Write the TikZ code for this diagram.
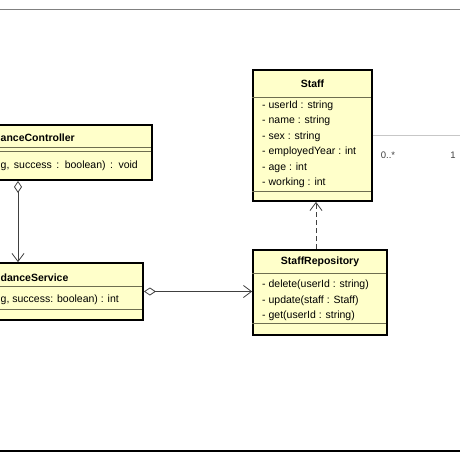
\documentclass[tikz,border=0pt]{standalone}
\usepackage{fontspec}
\setmainfont{Liberation Sans}
\usetikzlibrary{arrows.meta}
\definecolor{umlfill}{HTML}{FFFFCA}
\definecolor{umlsep}{HTML}{6E6E50}
\begin{document}
\begin{tikzpicture}[
        x=1pt, y=-1pt,
        classbox/.style={draw=black, line width=1.8pt, fill=umlfill, inner sep=0pt},
        sep line/.style={draw=umlsep, line width=0.7pt},
        class title/.style={font=\fontsize{10.5}{12}\selectfont\bfseries, inner sep=0pt},
        member/.style={font=\fontsize{10.5}{12}\selectfont, anchor=west, inner sep=0pt},
        mult/.style={font=\fontsize{9.5}{11}\selectfont, inner sep=0pt, text=black!75},
        aggregation/.style={draw=black!75, line width=0.8pt, {Diamond[open,length=12pt,width=8pt]}-{Straight Barb[length=8pt,width=12pt]}},
        dependency/.style={draw=black!75, line width=0.8pt, dash pattern=on 5pt off 3pt, -{Straight Barb[length=8pt,width=12pt]}},
        association/.style={draw=black!22, line width=0.8pt}
    ]
	\useasboundingbox (0,0) rectangle (460,460);
	\clip (0,0) rectangle (460,460);
	\draw[draw=black!50, line width=0.8pt] (0,9) -- (460,9);
	\draw[draw=black, line width=1.4pt] (0,451) -- (460,451);
	\node[classbox, minimum width=268pt, minimum height=55pt] (ctrl) at (18,152.5) {};
	\node[classbox, minimum width=250pt, minimum height=57pt] (serv) at (18,291.5) {};
	\node[classbox, minimum width=119pt, minimum height=131pt] (staff) at (312.5,135.5) {};
	\node[classbox, minimum width=134pt, minimum height=85pt] (repo) at (320,292.5) {};
	\draw[sep line] (ctrl.north west) ++(0,23) -- ++(268,0);
	\draw[sep line] (ctrl.north west) ++(0,27) -- ++(268,0);
	\draw[sep line] (serv.north west) ++(0,24) -- ++(250,0);
	\draw[sep line] (serv.north west) ++(0,47) -- ++(250,0);
	\draw[sep line] (staff.north west) ++(0,28) -- ++(119,0);
	\draw[sep line] (staff.north west) ++(0,122) -- ++(119,0);
	\draw[sep line] (repo.north west) ++(0,24) -- ++(134,0);
	\draw[sep line] (repo.north west) ++(0,74) -- ++(134,0);
	\node[class title, anchor=west] (ctrl_t) at (0.5,138) {anceController};
	\node[member] (ctrl_m) at (0.5,166) {\spaceskip=4.5pt g, success : boolean) : void};
	\node[class title, anchor=west] (serv_t) at (0.5,278) {danceService};
	\node[member] (serv_m) at (0.5,300) {g, success: boolean) : int};
	\node[class title] (staff_t) at (312.5,84) {Staff};
	\node[member] (staff_a1) at (262,106) {- userId : string};
	\node[member] (staff_a2) at (262,121) {- name : string};
	\node[member] (staff_a3) at (262,136.5) {- sex : string};
	\node[member] (staff_a4) at (262,152) {- employedYear : int};
	\node[member] (staff_a5) at (262,167.5) {- age : int};
	\node[member] (staff_a6) at (262,183) {- working : int};
	\node[class title] (repo_t) at (320,262) {StaffRepository};
	\node[member] (repo_m1) at (262,285) {- delete(userId : string)};
	\node[member] (repo_m2) at (262,300.5) {- update(staff : Staff)};
	\node[member] (repo_m3) at (262,316) {- get(userId : string)};
	\coordinate (dep_x) at (316,0);
	\coordinate (edge_r) at (460,0);
	\draw[aggregation] (ctrl.south) -- (serv.north);
	\draw[aggregation] (serv.east) -- (repo.west |- serv.east);
	\draw[dependency] (repo.north -| dep_x) -- (staff.south -| dep_x);
	\draw[association] (staff.east) -- (staff.east -| edge_r);
	\node[mult] (mult_many) at (388,155) {0..*};
	\node[mult] (mult_one) at (453,155) {1};
\end{tikzpicture}
\end{document}
